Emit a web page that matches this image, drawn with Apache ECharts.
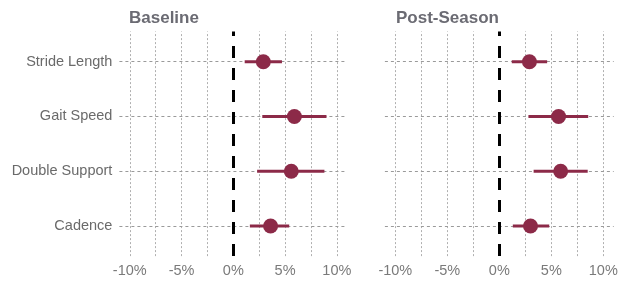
<!DOCTYPE html>
<html>
<head>
<meta charset="utf-8">
<script src="https://cdn.jsdelivr.net/npm/echarts@6/dist/echarts.min.js"></script>
<style>html,body{margin:0;padding:0;background:#fff;}#c{width:626px;height:282px;}</style>
</head>
<body>
<div id="c"></div>
<script>
// Categories, top to bottom
var categories = ['Stride Length', 'Gait Speed', 'Double Support', 'Cadence'];
var panelTitles = ['Baseline', 'Post-Season'];
// Estimates (%) and confidence bounds
var baselineEst  = [2.9, 5.9, 5.6, 3.6];
var baselineLow  = [1.1, 2.8, 2.3, 1.6];
var baselineHigh = [4.7, 9.0, 8.8, 5.4];
var postEst  = [2.9, 5.7, 5.9, 3.0];
var postLow  = [1.2, 2.8, 3.3, 1.3];
var postHigh = [4.6, 8.55, 8.5, 4.8];
// Axis ticks
var xTickLabels = [-10, -5, 0, 5, 10];
var xGridValues = [-10, -7.5, -5, -2.5, 2.5, 5, 7.5, 10];

var MAROON = '#8c2a48';
var n = categories.length;
function rowY(i) { return n - i; }

function barData(lo, hi) {
  return categories.map(function (c, i) { return [lo[i], hi[i], rowY(i)]; });
}
function ptData(est) {
  return categories.map(function (c, i) { return [est[i], rowY(i)]; });
}

var FONT = 'Liberation Sans, Arial, sans-serif';
var grids = [
  { left: 119.4, width: 227.8, top: 31.6, height: 224.5 },
  { left: 384.9, width: 228.8, top: 31.6, height: 224.5 }
];

var xAxes = [0, 1].map(function (k) {
  return {
    type: 'value', gridIndex: k, min: -11, max: 11,
    axisLine: { show: false }, axisTick: { show: false }, splitLine: { show: false },
    axisLabel: {
      customValues: xTickLabels,
      formatter: function (v) { return v + '%'; },
      color: '#7a7a7a', fontSize: 14.5, fontFamily: FONT, margin: 7
    }
  };
});

var yAxes = [0, 1].map(function (k) {
  return {
    type: 'value', gridIndex: k, min: 0.45, max: 4.55,
    axisLine: { show: false }, axisTick: { show: false }, splitLine: { show: false },
    axisLabel: {
      show: k === 0,
      customValues: [1, 2, 3, 4],
      formatter: function (v) { return categories[n - v] || ''; },
      color: '#6a6a6a', fontSize: 14.5, fontFamily: FONT, margin: 7
    }
  };
});

var series = [];
[[baselineEst, baselineLow, baselineHigh], [postEst, postLow, postHigh]].forEach(function (d, k) {
  // grid lines
  series.push({
    type: 'line', xAxisIndex: k, yAxisIndex: k, data: [], silent: true, z: 1,
    markLine: {
      z: 1, silent: true, symbol: 'none', label: { show: false }, animation: false,
      data: xGridValues.map(function (v) {
        return { xAxis: v, lineStyle: { color: '#b0b0b0', width: 1, type: [2, 2] } };
      }).concat(categories.map(function (c, i) {
        return { yAxis: rowY(i), lineStyle: { color: '#9a9a9a', width: 1, type: [3, 3] } };
      }))
    }
  });
  // zero line
  series.push({
    type: 'line', xAxisIndex: k, yAxisIndex: k, data: [], silent: true, z: 2,
    markLine: {
      z: 2, silent: true, symbol: 'none', label: { show: false }, animation: false,
      data: [{ xAxis: 0, lineStyle: { color: '#000', width: 3, type: [12, 10] } }]
    }
  });
  // error bars
  series.push({
    type: 'custom', xAxisIndex: k, yAxisIndex: k, z: 10,
    data: barData(d[1], d[2]),
    encode: { x: [0, 1], y: 2 },
    renderItem: function (params, api) {
      var a = api.coord([api.value(0), api.value(2)]);
      var b = api.coord([api.value(1), api.value(2)]);
      return { type: 'line', shape: { x1: a[0], y1: a[1], x2: b[0], y2: b[1] },
               style: { stroke: MAROON, lineWidth: 3 } };
    }
  });
  // points
  series.push({
    type: 'scatter', xAxisIndex: k, yAxisIndex: k, z: 11,
    data: ptData(d[0]), symbol: 'circle', symbolSize: 15,
    itemStyle: { color: MAROON, opacity: 1 }
  });
});

var chart = echarts.init(document.getElementById('c'), null, { renderer: 'canvas' });
chart.setOption({
  animation: false,
  backgroundColor: '#fff',
  title: [
    { text: panelTitles[0], left: 124, top: 5,
      textStyle: { color: '#6b6b73', fontSize: 17, fontWeight: 'bold', fontFamily: FONT } },
    { text: panelTitles[1], left: 391, top: 5,
      textStyle: { color: '#6b6b73', fontSize: 17, fontWeight: 'bold', fontFamily: FONT } }
  ],
  grid: grids,
  xAxis: xAxes,
  yAxis: yAxes,
  series: series
});
</script>
</body>
</html>
